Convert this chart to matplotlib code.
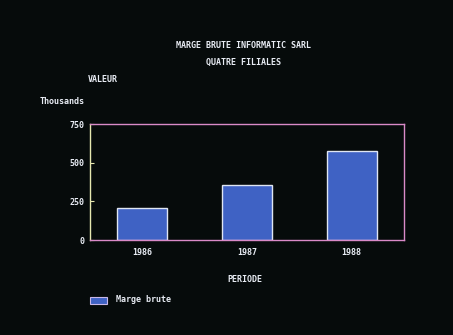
import matplotlib
matplotlib.use("Agg")
import matplotlib.pyplot as plt
from matplotlib.patches import Rectangle

years = ["1986", "1987", "1988"]
marge_brute = [207, 356, 575]
yticks = [0, 250, 500, 750]

BG = "#060b0b"
TXT = "#e8ecf4"
BAR = "#3f62c4"
MAG = "#d98ac8"
YEL = "#e6e8b0"

W, H = 453, 335
fig = plt.figure(figsize=(W / 100, H / 100), dpi=100, facecolor=BG)
ax = fig.add_axes([90 / W, 1 - 240 / H, 314 / W, 116 / H], facecolor=BG)

font = dict(family="DejaVu Sans Mono", weight="bold", color=TXT, fontsize=6)

x = list(range(len(years)))
ax.bar(x, marge_brute, width=0.48, color=BAR, edgecolor="#dfe6f2", linewidth=1.0, zorder=2)
ax.set_xlim(-0.5, len(years) - 0.5)
ax.set_ylim(0, 750)
ax.set_yticks(yticks)
ax.set_yticklabels([str(v) for v in yticks], **font)
ax.set_xticks(x)
ax.set_xticklabels(years, **font)
ax.tick_params(axis="y", direction="in", length=3, color=YEL, width=0.8, pad=4)
ax.tick_params(axis="x", length=0, pad=6)

for s in ["top", "right", "bottom"]:
    ax.spines[s].set_color(MAG)
    ax.spines[s].set_linewidth(1.0)
ax.spines["left"].set_color(YEL)
ax.spines["left"].set_linewidth(1.0)

fig.text(244 / W, 1 - 45 / H, "MARGE BRUTE INFORMATIC SARL", ha="center", va="center", **font)
fig.text(244 / W, 1 - 62 / H, "QUATRE FILIALES", ha="center", va="center", **font)
fig.text(88 / W, 1 - 80 / H, "VALEUR", ha="left", va="center", **font)
fig.text(40 / W, 1 - 101 / H, "Thousands", ha="left", va="center", **font)
fig.text(245 / W, 1 - 280 / H, "PERIODE", ha="center", va="center", **font)

fig.patches.append(Rectangle((90 / W, 1 - 304 / H), 17 / W, 7 / H, transform=fig.transFigure,
                             facecolor=BAR, edgecolor="#c8b8e8", linewidth=0.8))
fig.text(116 / W, 1 - 300 / H, "Marge brute", ha="left", va="center", **font)

fig.savefig("out.png", dpi=100, facecolor=BG)
